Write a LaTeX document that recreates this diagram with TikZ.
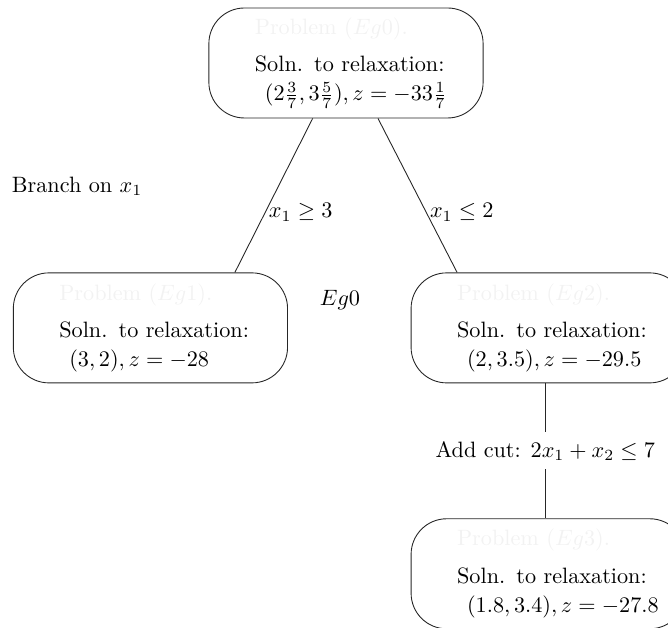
\documentclass[tikz,border=0pt]{standalone}
\usepackage{amsmath}
\usepackage{amssymb}
\usepackage{xcolor}
\usetikzlibrary{positioning}

\newcommand{\faded}[1]{\textcolor{black!5}{#1}}

\begin{document}
\begin{tikzpicture}[
    node distance=69.3pt and 40pt,
    prob/.style={rectangle, draw=black!85, rounded corners=16pt, align=left, text width=82pt, inner xsep=20.7pt, minimum height=49.5pt},
    cond/.style={right, inner sep=1.5pt},
    branch/.style={draw=black!85}
]
    \clip[use as bounding box] (-155.7pt,28.35pt) rectangle (144.9pt,-254.25pt);

    % Root problem
    \node (root) [prob] at (0,0) {\faded{Problem ($Eg0$).}\\[5pt]\mbox{Soln. to relaxation:}\\[1pt]\hspace*{4.5pt}\mbox{$(2\frac{3}{7}, 3\frac{5}{7}), z = -33\frac{1}{7}$}};

    % Children after branching
    \node (eg1) [prob, below=of root, xshift=-88pt] {\faded{Problem ($Eg1$).}\\[5pt]\mbox{Soln. to relaxation:}\\[1pt]\hspace*{4.5pt}\mbox{$(3, 2), z = -28$}};
    \node (eg2) [prob, below=of root, xshift=91pt] {\faded{Problem ($Eg2$).}\\[5pt]\mbox{Soln. to relaxation:}\\[1pt]\hspace*{4.5pt}\mbox{$(2, 3.5), z = -29.5$}};

    % After the cut
    \node (eg3) [prob, below=60.75pt of eg2] {\faded{Problem ($Eg3$).}\\[5pt]\mbox{Soln. to relaxation:}\\[1pt]\hspace*{4.5pt}\mbox{$(1.8, 3.4), z = -27.8$}};

    % Free labels
    \node (branchlbl) at (-121pt,-55.4pt) {Branch on $x_1$};
    \node (eglbl) at (-2.7pt,-106.7pt) {$Eg0$};

    % Connectors
    \draw [branch] ([xshift=-15pt]root.south) -- node[cond, pos=0.61] {$x_1 \geq 3$} ([xshift=38pt]eg1.north);
    \draw [branch] ([xshift=14.4pt]root.south) -- node[cond, pos=0.61] {$x_1 \leq 2$} ([xshift=-41pt]eg2.north);
    \draw [branch] ([xshift=-1.3pt]eg2.south) -- node[fill=white, inner sep=4pt] {Add cut: $2x_1 + x_2 \leq 7$} ([xshift=-1.3pt]eg3.north);
\end{tikzpicture}
\end{document}
